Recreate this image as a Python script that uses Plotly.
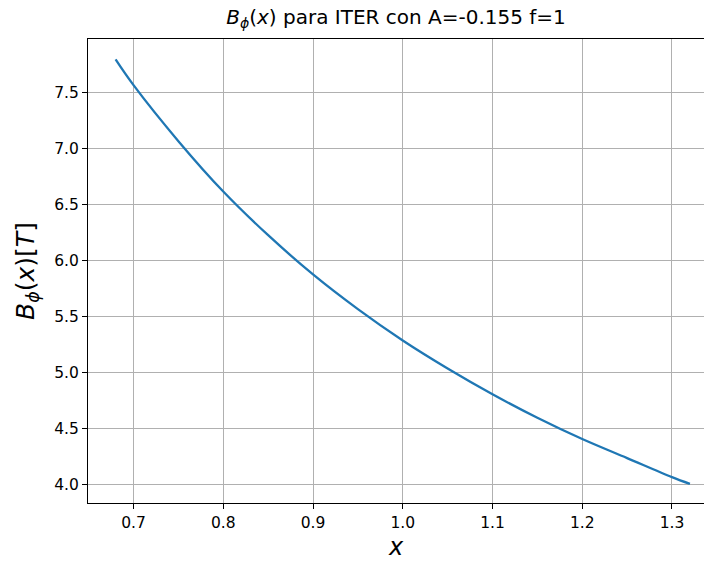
import plotly.graph_objects as go

x_vals = [0.68, 0.70, 0.75, 0.80, 0.85, 0.90, 0.95, 1.00, 1.05, 1.10, 1.15, 1.20, 1.25, 1.30, 1.32]
b_vals = [7.80, 7.57, 7.07, 6.62, 6.23, 5.88, 5.57, 5.29, 5.04, 4.81, 4.60, 4.41, 4.24, 4.07, 4.01]
x_ticks = [0.7, 0.8, 0.9, 1.0, 1.1, 1.2, 1.3]
y_ticks = [4.0, 4.5, 5.0, 5.5, 6.0, 6.5, 7.0, 7.5]

fig = go.Figure()
fig.add_trace(go.Scatter(x=x_vals, y=b_vals, mode="lines",
                         line=dict(color="#1f77b4", width=2.3, shape="spline")))

font = "DejaVu Sans, sans-serif"
axis_common = dict(
    showgrid=True, gridcolor="#b0b0b0", gridwidth=1.2,
    showline=True, linecolor="black", linewidth=1.2,
    ticks="outside", ticklen=5, tickcolor="black", tickwidth=1.2,
    zeroline=False, tickfont=dict(family=font, size=15.5, color="black"),
)
fig.update_layout(
    width=704, height=566,
    margin=dict(l=88, r=0, t=39, b=63),
    paper_bgcolor="white", plot_bgcolor="white",
    showlegend=False,
    title=dict(text="<i>B</i><sub><i>ϕ</i></sub>(<i>x</i>) para ITER con A=-0.155 f=1",
               x=(88 + 704) / 2 / 704, xanchor="center", y=1 - 17 / 566, yanchor="middle",
               font=dict(family=font, size=20, color="black")),
    xaxis=dict(axis_common, mirror=True, range=[0.64926, 1.33569], tickvals=x_ticks,
               ticktext=[f"{v:.1f}" for v in x_ticks],
               title=dict(text="<i>x</i>", font=dict(family=font, size=24, color="black"), standoff=7)),
    yaxis=dict(axis_common, mirror=False, range=[3.839, 7.982], tickvals=y_ticks,
               ticktext=[f"{v:.1f}" for v in y_ticks],
               title=dict(text="<i>B</i><sub><i>ϕ</i></sub>(<i>x</i>)[<i>T</i>]",
                          font=dict(family=font, size=25, color="black"), standoff=12)),
)
fig.write_html("out.html")
